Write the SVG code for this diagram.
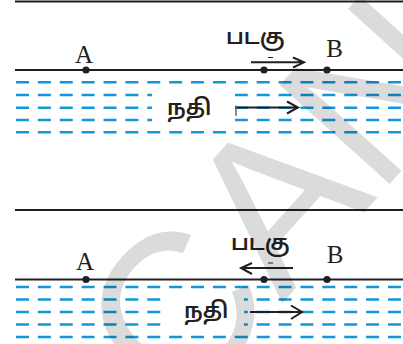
<svg xmlns="http://www.w3.org/2000/svg" width="403" height="344" viewBox="0 0 403 344">
<style>
.bank{stroke:#231f20;stroke-width:2.2;fill:none}
.water{stroke:#1396dc;stroke-width:2.4;stroke-dasharray:13 8.88;fill:none}
.dot{fill:#231f20}
.lbl{font-family:"Liberation Serif",serif;font-size:25px;fill:#231f20;text-anchor:middle}
.ta{font-family:"Noto Sans Tamil","Noto Sans","Lohit Tamil",sans-serif;font-size:22px;font-weight:600;fill:#231f20}
.arr{stroke:#231f20;stroke-width:2;fill:none;stroke-linecap:butt}
.gap{fill:#fff}
</style>
<g id="scene1">
  <line class="bank" x1="15" y1="1.5" x2="403" y2="1.5"/>
  <line class="bank" x1="15" y1="70" x2="403" y2="70"/>
  <g id="river1">
    <line class="water" x1="16" y1="82.3" x2="403" y2="82.3"/>
    <line class="water" x1="16" y1="95" x2="403" y2="95"/>
    <line class="water" x1="16" y1="107.7" x2="403" y2="107.7"/>
    <line class="water" x1="16" y1="120" x2="403" y2="120"/>
    <line class="water" x1="16" y1="132.3" x2="403" y2="132.3"/>
    <rect class="gap" x="152" y="91" width="83" height="33"/>
  </g>
  <g id="A1"><circle class="dot" cx="86" cy="70" r="3.6"/><text class="lbl" x="84" y="63">A</text></g>
  <g id="B1"><circle class="dot" cx="327" cy="70" r="3.6"/><text class="lbl" x="334.5" y="57">B</text></g>
  <g id="boat1"><circle class="dot" cx="264" cy="70" r="3.6"/><text class="ta" x="226" y="44">படகு</text>
    <line x1="268" y1="57.5" x2="273" y2="57.5" stroke="#231f20" stroke-width="1"/></g>
  <g id="river-label1"><text class="ta" x="167" y="115" font-size="24">நதி</text></g>
  <g id="connectors1">
    <path class="arr" d="M251 62.3H303.5M293 57.5L304 62.3L293 67.5"/>
    <path class="arr" d="M237 107.5H297.5M287 101.5L298 107.5L287 113.5" stroke-width="1.8"/>
    <path d="M236 105.5V116" stroke="#231f20" stroke-width="1"/>
  </g>
</g>
<g id="scene2">
  <line class="bank" x1="15" y1="210" x2="403" y2="210"/>
  <line class="bank" x1="15" y1="279.5" x2="403" y2="279.5"/>
  <g id="river2">
    <line class="water" x1="16" y1="287" x2="403" y2="287"/>
    <line class="water" x1="16" y1="299.5" x2="403" y2="299.5"/>
    <line class="water" x1="16" y1="312" x2="403" y2="312"/>
    <line class="water" x1="16" y1="324.5" x2="403" y2="324.5"/>
    <line class="water" x1="16" y1="337" x2="403" y2="337"/>
    <rect class="gap" x="161" y="296" width="83" height="32"/>
  </g>
  <g id="A2"><circle class="dot" cx="86" cy="279.5" r="3.6"/><text class="lbl" x="85" y="270">A</text></g>
  <g id="B2"><circle class="dot" cx="327" cy="279.5" r="3.6"/><text class="lbl" x="335" y="263">B</text></g>
  <g id="boat2"><circle class="dot" cx="264" cy="279.5" r="3.6"/><text class="ta" x="231" y="250">படகு</text>
    <line x1="268" y1="263" x2="273" y2="263" stroke="#231f20" stroke-width="1"/></g>
  <g id="river-label2"><text class="ta" x="184" y="318" font-size="24">நதி</text></g>
  <g id="connectors2">
    <path class="arr" d="M293 268H241.5M252 263L241 268L252 274"/>
    <path class="arr" d="M250 312H301.5M291 305.5L302 312L291 319" stroke-width="1.8"/>
  </g>
</g>
<text id="watermark" x="0" y="0" transform="translate(178,419) rotate(-48)" font-family="Liberation Sans,sans-serif" font-size="215" fill="#000" fill-opacity="0.14">CAN</text>
</svg>
